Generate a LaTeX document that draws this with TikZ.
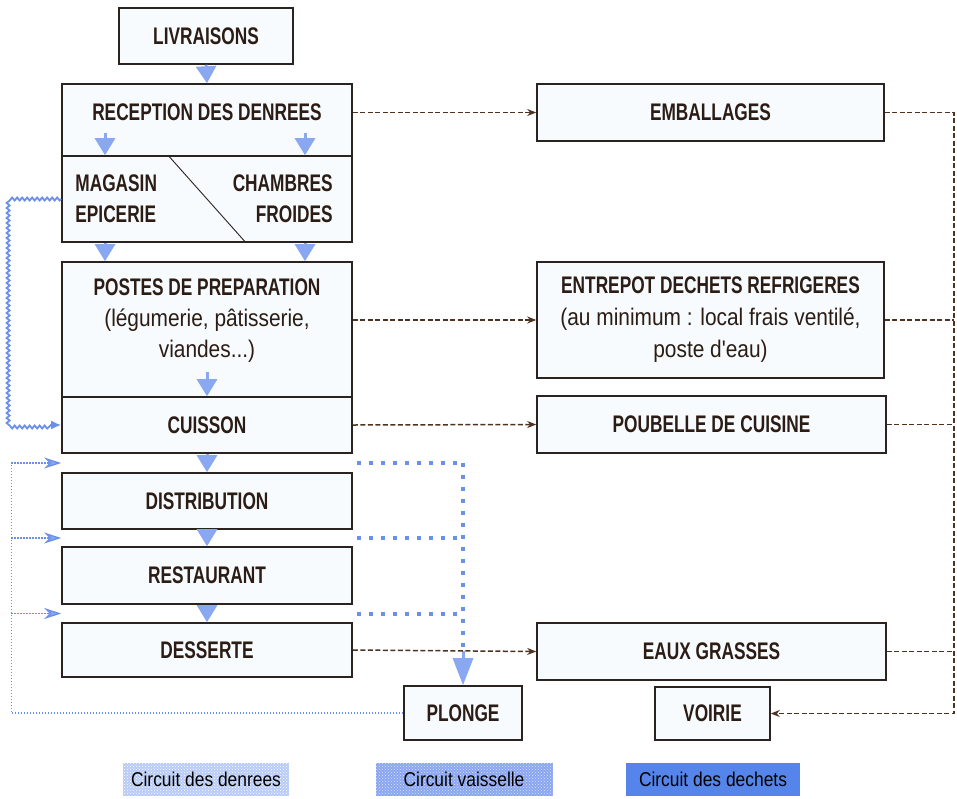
\documentclass[tikz,border=0pt]{standalone}
\usepackage{fontspec}
\usepackage{tikz}
\usetikzlibrary{arrows.meta, calc, decorations.pathmorphing, patterns}
\setmainfont{Liberation Sans}
\newfontfamily\capsfont{Liberation Sans}[FakeStretch=0.72]
\newfontfamily\lowfont{Liberation Sans}[FakeStretch=0.87]
\newcommand\petit{\lowfont\mdseries}
\definecolor{boxline}{HTML}{2B2320}
\definecolor{boxfill}{HTML}{F7FBFD}
\definecolor{txt}{HTML}{2B1D15}
\definecolor{dblue}{HTML}{8AA8F2}
\definecolor{vblue}{HTML}{6A90EA}
\definecolor{dbrown}{HTML}{4E3322}
\definecolor{legA}{HTML}{B8CBF6}
\definecolor{legB}{HTML}{8AA6F0}
\definecolor{legC}{HTML}{5585EA}
\tikzset{
  bloc/.style={draw=boxline, line width=1.6pt, fill=boxfill, text=txt, inner sep=0pt,
    align=center, font=\capsfont\bfseries\fontsize{24}{32}\selectfont},
  lbl/.style={text=txt, inner sep=0pt, align=center,
    font=\capsfont\bfseries\fontsize{24}{31}\selectfont},
  denree/.style={draw=dblue, line width=3pt, -{Triangle[width=20pt,length=17pt]}},
  flux/.style={draw=vblue, line width=1.8pt, decorate,
    decoration={snake, amplitude=1.5pt, segment length=5pt, post length=10pt},
    -{Latex[length=10pt,width=9pt]}},
  retour/.style={draw=vblue, line width=1.3pt, dash pattern=on 1.3pt off 1.7pt},
  vaiss/.style={draw=vblue, line width=4pt, dash pattern=on 4pt off 8pt},
  dechet/.style={draw=dbrown, line width=1.5pt, dash pattern=on 5pt off 2.5pt},
  legende/.style={inner sep=0pt, text=black, minimum height=33pt,
    font=\lowfont\fontsize{20}{22}\selectfont}
}
\begin{document}
\begin{tikzpicture}[x=1pt, y=-1pt]
\useasboundingbox (0,0) rectangle (957,798);

\node[bloc, minimum width=174pt, minimum height=56pt] (liv) at (206,36) {LIVRAISONS};
\node[bloc, minimum width=290pt, minimum height=72pt] (recep) at (207,120) {};
\node[bloc, minimum width=290pt, minimum height=86pt] (stock) at (207,199) {};
\node[bloc, minimum width=290pt, minimum height=135pt] (postes) at (207,329.5) {};
\node[bloc, minimum width=290pt, minimum height=56pt] (cuisson) at (207,425) {CUISSON};
\node[bloc, minimum width=290pt, minimum height=56pt] (distri) at (207,501) {DISTRIBUTION};
\node[bloc, minimum width=290pt, minimum height=57pt] (resto) at (207,575.5) {RESTAURANT};
\node[bloc, minimum width=290pt, minimum height=54pt] (desserte) at (207,650) {DESSERTE};
\node[bloc, minimum width=118pt, minimum height=54pt] (plonge) at (463,713) {PLONGE};

\node[lbl] (t-recep) at (207,112) {RECEPTION DES DENREES};
\node[lbl, anchor=west, align=left] (t-magasin) at ([xshift=14pt]stock.west) {MAGASIN\\EPICERIE};
\node[lbl, anchor=east, align=right] (t-chambres) at ([xshift=-20pt]stock.east) {CHAMBRES\\FROIDES};
\node[lbl] (t-postes) at (207,321) {POSTES DE PREPARATION\\{\petit (légumerie, pâtisserie,}\\{\petit viandes...)}};
\draw[draw=boxline, line width=0.9pt] ([xshift=-39pt]stock.north) -- ([xshift=39pt]stock.south);

\node[bloc, minimum width=347pt, minimum height=57pt] (embal) at (710.5,112.5) {EMBALLAGES};
\node[bloc, minimum width=347pt, minimum height=116pt] (entrepot) at (710.5,320)
  {ENTREPOT DECHETS REFRIGERES\\{\petit (au minimum : local frais ventilé,}\\{\petit poste d'eau)}};
\node[bloc, minimum width=349pt, minimum height=57pt] (poubelle) at (711.5,424.5) {POUBELLE DE CUISINE};
\node[bloc, minimum width=349pt, minimum height=57pt] (eaux) at (711.5,651.5) {EAUX GRASSES};
\node[bloc, minimum width=115pt, minimum height=53pt] (voirie) at (712.5,713.5) {VOIRIE};

\draw[denree] (liv.south) -- (recep.north);
\draw[denree] ([xshift=-102pt,yshift=22pt]stock.north) -- ([xshift=-102pt]stock.north);
\draw[denree] ([xshift=98pt,yshift=22pt]stock.north) -- ([xshift=98pt]stock.north);
\draw[denree] ([xshift=-102pt]stock.south) -- ([xshift=-102pt]postes.north);
\draw[denree] ([xshift=98pt]stock.south) -- ([xshift=98pt]postes.north);
\draw[denree] ([yshift=24pt]cuisson.north) -- (cuisson.north);
\draw[denree] (cuisson.south) -- (distri.north);
\draw[denree] (distri.south) -- (resto.north);
\draw[denree] (resto.south) -- (desserte.north);
\draw[flux] (stock.west) -- ++(-50,0) |- (cuisson.west);

\coordinate (g1) at ($(cuisson.south west)!.5!(distri.north west)$);
\coordinate (g2) at ($(distri.south west)!.5!(resto.north west)$);
\coordinate (g3) at ($(resto.south west)!.5!(desserte.north west)$);
\coordinate (h1) at ($(cuisson.south east)!.5!(distri.north east)+(4,0)$);
\coordinate (h2) at ($(distri.south east)!.5!(resto.north east)+(4,0)$);
\coordinate (h3) at ($(resto.south east)!.5!(desserte.north east)+(4,0)$);
\draw[retour] (plonge.west) -| ([xshift=-50pt]g1);
\foreach \g in {g1,g2,g3}
  \draw[retour, -{Stealth[length=17pt,width=11pt,fill=dblue]}] ([xshift=-50pt]\g) -- (\g);
\foreach \h in {h1,h2,h3}
  \draw[vaiss] (\h) -- (\h -| plonge.north);
\draw[vaiss] (h1 -| plonge.north) -- ([yshift=34pt]plonge.north);
\draw[draw=dblue, line width=3pt, -{Triangle[width=20pt,length=27pt]}] ([yshift=34pt]plonge.north) -- (plonge.north);

\draw[dechet, -{Stealth[length=9pt,width=7pt]}] (recep.east |- embal.west) -- (embal.west);
\draw[dechet, -{Stealth[length=9pt,width=7pt]}] (postes.east |- entrepot.west) -- (entrepot.west);
\draw[dechet, -{Stealth[length=9pt,width=7pt]}] (cuisson.east) -- (poubelle.west);
\draw[dechet, -{Stealth[length=9pt,width=7pt]}] (desserte.east) -- (eaux.west);
\coordinate (coll) at (954,112.5);
\draw[dechet, -{Stealth[length=9pt,width=7pt]}] (embal.east) -- (coll) |- (voirie.east);
\foreach \b in {entrepot,poubelle,eaux}
  \draw[dechet] (\b.east) -- (\b.east -| coll);

\node[legende, minimum width=166pt, fill=legA, postaction={pattern=crosshatch dots, pattern color=white}] (leg-denrees) at (206,779) {Circuit des denrees};
\node[legende, minimum width=177pt, fill=legB, postaction={pattern=crosshatch dots, pattern color=white!70!legB}] (leg-vaisselle) at (464,779) {Circuit vaisselle};
\node[legende, minimum width=174pt, fill=legC] (leg-dechets) at (713,779) {Circuit des dechets};
\end{tikzpicture}
\end{document}
